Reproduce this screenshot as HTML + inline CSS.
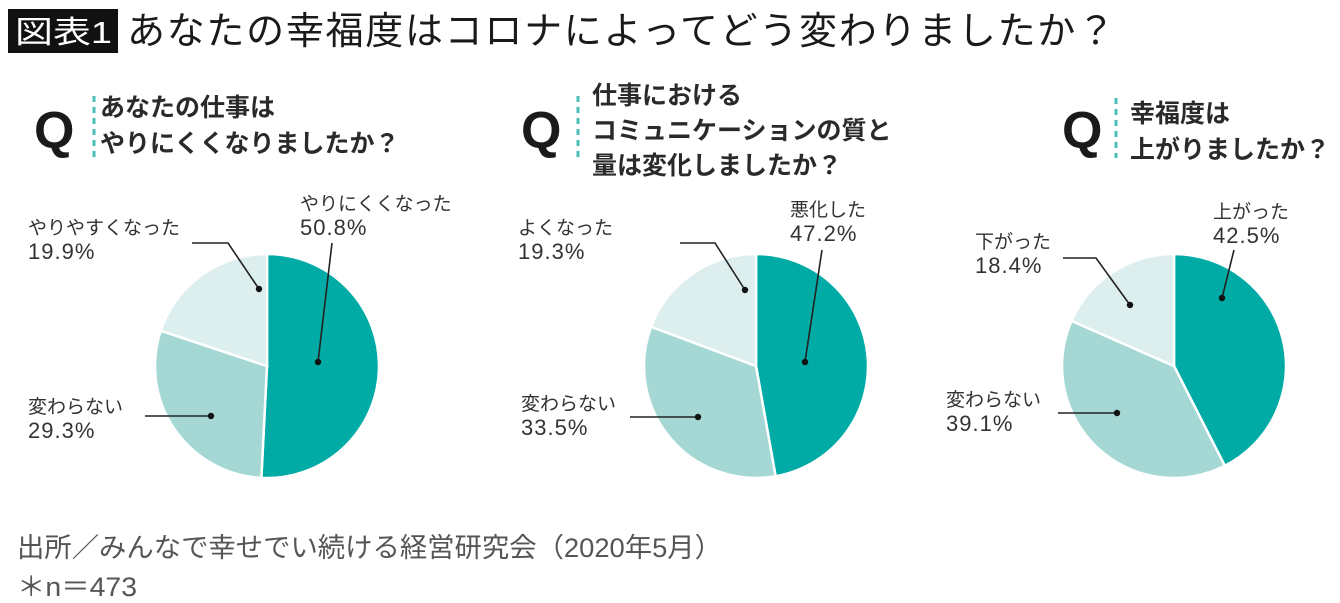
<!DOCTYPE html>
<html><head><meta charset="utf-8">
<style>
body{margin:0;background:#fff;width:1340px;height:603px;overflow:hidden;}
svg{display:block;font-family:"Liberation Sans","Noto Sans CJK JP",sans-serif;}
</style></head><body>
<svg id="chart" width="1340" height="603" viewBox="0 0 1340 603" xmlns="http://www.w3.org/2000/svg">
<rect x="8" y="9" width="110" height="44" fill="#111"/>
<text x="15" y="43" font-size="31" fill="#fff" textLength="97" lengthAdjust="spacingAndGlyphs">図表1</text>
<text x="127" y="44" font-size="38" fill="#1a1a1a" textLength="988">あなたの幸福度はコロナによってどう変わりましたか？</text>
<g id="pies"></g>
<text x="17" y="557" font-size="27" fill="#555" textLength="705" lengthAdjust="spacingAndGlyphs">出所／みんなで幸せでい続ける経営研究会（2020年5月）</text>
<text x="17" y="596" font-size="27" fill="#555" textLength="120" lengthAdjust="spacingAndGlyphs">＊n＝473</text>
</svg>
<script>
const questions1 = ["あなたの仕事は","やりにくくなりましたか？"];
const questions2 = ["仕事における","コミュニケーションの質と","量は変化しましたか？"];
const questions3 = ["幸福度は","上がりましたか？"];
const cats1 = ["やりにくくなった","変わらない","やりやすくなった"];
const cats2 = ["悪化した","変わらない","よくなった"];
const cats3 = ["上がった","変わらない","下がった"];
const vals1 = [50.8, 29.3, 19.9];
const vals2 = [47.2, 33.5, 19.3];
const vals3 = [42.5, 39.1, 18.4];
const colors = ["#00aba6","#a5d8d5","#ddeeee"];
const NS="http://www.w3.org/2000/svg";
const root=document.getElementById('pies');
function mk(tag,attrs,parent){const e=document.createElementNS(NS,tag);for(const k in attrs)e.setAttribute(k,attrs[k]);(parent||root).appendChild(e);return e;}
const layouts=[
 {cx:267,cy:366,r:112,qx:34,qy:148,tx:100,ty:[116,152],dash:[94,96,158],
  labels:[{x:300,y:210,pts:[[332,243],[318,362]]},{x:28,y:413,pts:[[145,416],[211,416]]},{x:28,y:234,pts:[[192,243],[228,243],[259,289]]}]},
 {cx:756,cy:366,r:112,qx:521,qy:148,tx:592,ty:[104,139,174],dash:[578,96,158],
  labels:[{x:790,y:216,pts:[[822,250],[805,362]]},{x:521,y:410,pts:[[630,417],[698,417]]},{x:518,y:234,pts:[[680,243],[715,243],[745,290]]}]},
 {cx:1174,cy:366,r:112,qx:1062,qy:148,tx:1130,ty:[122,158],dash:[1116,98,158],
  labels:[{x:1213,y:218,pts:[[1234,250],[1222,298]]},{x:946,y:406,pts:[[1058,413],[1117,413]]},{x:975,y:248,pts:[[1063,258],[1096,258],[1130,305]]}]}
];
const allQ=[questions1,questions2,questions3], allC=[cats1,cats2,cats3], allV=[vals1,vals2,vals3];
function pt(cx,cy,r,frac){const a=frac*2*Math.PI-Math.PI/2;return [cx+r*Math.cos(a),cy+r*Math.sin(a)];}
layouts.forEach((L,pi)=>{
  const g=mk('g',{});
  
  
  const q=mk('text',{x:L.qx,y:L.qy,'font-size':52,'font-weight':'bold',fill:'#1a1a1a','font-family':'"Liberation Sans",sans-serif'},g);
  q.textContent='Q';
  
  
  const dl=mk('line',{x1:L.dash[0],y1:L.dash[1],x2:L.dash[0],y2:L.dash[2],stroke:'#4bbdb9','stroke-width':3,'stroke-dasharray':'6 5'},g);
  
  
  allQ[pi].forEach((s,i)=>{const t=mk('text',{x:L.tx,y:L.ty[i],'font-size':25,'font-weight':'bold',fill:'#2a2a2a'},g);t.textContent=s;
    
    });
  const vals=allV[pi], total=vals.reduce((a,b)=>a+b,0);
  let acc=0;
  vals.forEach((v,i)=>{
    const f0=acc/total, f1=(acc+v)/total; acc+=v;
    const p0=pt(L.cx,L.cy,L.r,f0), p1=pt(L.cx,L.cy,L.r,f1);
    const large=(f1-f0)>0.5?1:0;
    const path=mk('path',{d:`M${L.cx},${L.cy} L${p0[0]},${p0[1]} A${L.r},${L.r} 0 ${large} 1 ${p1[0]},${p1[1]} Z`,fill:colors[i],stroke:'#fff','stroke-width':2.5},g);
    
    
  });
  allC[pi].forEach((c,i)=>{
    const lb=L.labels[i];
    const t1=mk('text',{x:lb.x,y:lb.y,'font-size':19,fill:'#333'},g);t1.textContent=c;
    
    
    const t2=mk('text',{x:lb.x,y:lb.y+25,'font-size':22,fill:'#333','letter-spacing':1},g);t2.textContent=vals[i].toFixed(1)+'%';
    
    
    const pl=mk('polyline',{points:lb.pts.map(p=>p.join(',')).join(' '),fill:'none',stroke:'#222','stroke-width':1.6},g);
    
    
    const e=lb.pts[lb.pts.length-1];
    const d=mk('circle',{cx:e[0],cy:e[1],r:3.2,fill:'#111'},g);
    
    
  });
});
</script>
</body></html>
